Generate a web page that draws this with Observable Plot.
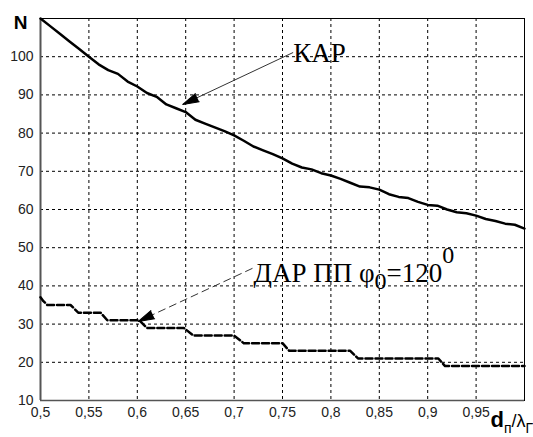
<!DOCTYPE html>
<html><head><meta charset="utf-8">
<script src="https://cdn.jsdelivr.net/npm/d3@7"></script>
<script src="https://cdn.jsdelivr.net/npm/@observablehq/plot@0.6"></script>
<style>body{margin:0;background:#fff}</style>
</head><body><div id="chart"></div>
<script>
// --- data ---
const karX = [0.50,0.51,0.52,0.53,0.54,0.55,0.56,0.57,0.58,0.59,0.60,0.61,0.62,0.63,0.64,0.65,0.66,0.67,0.68,0.69,0.70,0.71,0.72,0.73,0.74,0.75,0.76,0.77,0.78,0.79,0.80,0.81,0.82,0.83,0.84,0.85,0.86,0.87,0.88,0.89,0.90,0.91,0.92,0.93,0.94,0.95,0.96,0.97,0.98,0.99,1.00];
const karN = [110,108,106,104,102,100,98,96.5,95.5,93.5,92.2,90.5,89.5,87.5,86.5,85.5,83.5,82.5,81.5,80.5,79.4,78,76.5,75.5,74.5,73.4,72,71,70.5,69.5,68.9,68,67,66,65.8,65.2,64,63.3,63,62,61.2,61,60,59.3,59,58.4,57.5,57,56.3,56,55];
const darX = [0.5,0.503,0.507,0.531,0.539,0.562,0.569,0.602,0.61,0.648,0.658,0.700,0.710,0.750,0.757,0.820,0.828,0.911,0.918,1.0];
const darN = [37,36,35,35,33,33,31,31,29,29,27,27,25,25,23,23,21,21,19,19];
const xTicks = [0.5,0.55,0.6,0.65,0.7,0.75,0.8,0.85,0.9,0.95];
const xGrid = [0.55,0.6,0.65,0.7,0.75,0.8,0.85,0.9,0.95];
const yTicks = [10,20,30,40,50,60,70,80,90,100];
const yGrid = [20,30,40,50,60,70,80,90,100];
// annotation labels and arrows (data coordinates)
const karLabel = ["КАР"];
const darLabelParts = ["ДАР ПП φ","0","=120","0"];
const labelX = [0.761, 0.72];
const labelY = [98.7, 40.9];
const arrowX1 = [0.761, 0.719];
const arrowY1 = [101.1, 44.6];
const arrowX2 = [0.647, 0.601];
const arrowY2 = [87.5, 30.7];
const arrowDash = ["none", "8,4"];
const yAxisLabel = "N";
const xAxisLabelParts = ["d","п","/λ","Г"];

const kar = karX.map((x,i)=>({x, y: karN[i]}));
const dar = darX.map((x,i)=>({x, y: darN[i]}));
const labels = [
  {x: labelX[0], y: labelY[0], text: karLabel[0]},
  {x: labelX[1], y: labelY[1], text: darLabelParts.join("")}
];
const arrows = arrowX1.map((x1,i)=>({x1, y1: arrowY1[i], x2: arrowX2[i], y2: arrowY2[i], dash: arrowDash[i]}));

function build(heads) {
  return Plot.plot({
    width: 533, height: 437,
    marginLeft: 40, marginRight: 9, marginTop: 18, marginBottom: 37,
    style: {fontFamily: "Liberation Sans, Arial, sans-serif", fontSize: "14px", background: "white", color: "#222"},
    x: {domain: [0.5, 1.0]},
    y: {domain: [10, 110]},
    marks: [
      Plot.gridX(xGrid, {stroke: "black", strokeOpacity: 1, strokeDasharray: "3,3"}),
      Plot.gridY(yGrid, {stroke: "black", strokeOpacity: 1, strokeDasharray: "3,3"}),
      Plot.frame({stroke: "black"}),
      Plot.ruleX([0.5], {stroke: "#555", strokeWidth: 2}),
      Plot.ruleY([10], {stroke: "#555", strokeWidth: 1.5}),
      Plot.axisX(xTicks, {tickSize: 0, tickPadding: 7, tickFormat: d => String(d).replace(".", ","), label: null}),
      Plot.axisY(yTicks, {tickSize: 0, tickPadding: 7, label: null}),
      Plot.line(kar, {x: "x", y: "y", stroke: "black", strokeWidth: 2.5}),
      Plot.line(dar, {x: "x", y: "y", stroke: "black", strokeWidth: 2.5, strokeDasharray: "7,3"}),
      Plot.link(arrows.filter(a=>a.dash==="none"), {x1:"x1", y1:"y1", x2:"x2", y2:"y2", stroke: "#333", strokeWidth: 1}),
      Plot.link(arrows.filter(a=>a.dash!=="none"), {x1:"x1", y1:"y1", x2:"x2", y2:"y2", stroke: "#333", strokeWidth: 1, strokeDasharray: "8,4"}),
      heads ? Plot.vector(heads, {x: "x", y: "y", rotate: "rotate", length: 16, r: 4.5, shape: "spike", anchor: "end", fill: "black", stroke: "black", strokeWidth: 1}) : null,
      Plot.text(labels, {x: "x", y: "y", text: "text", textAnchor: "start", lineAnchor: "bottom", fontFamily: "Liberation Serif, Times New Roman, serif", fontSize: 27, fill: "black"}),
      Plot.text([yAxisLabel], {x: 0.5, frameAnchor: "top", text: d => d, dx: -20, dy: 10, lineAnchor: "bottom", fontSize: 19, fontWeight: "bold", fill: "black"}),
      Plot.text([xAxisLabelParts.join("")], {x: 1.0, frameAnchor: "bottom", text: d => d, dx: -34, dy: 26, textAnchor: "start", lineAnchor: "bottom", fontSize: 20, fill: "black"})
    ]
  });
}

const p0 = build(null);
const sx = p0.scale("x"), sy = p0.scale("y");
const px = v => sx.range[0] + (v - sx.domain[0]) / (sx.domain[1] - sx.domain[0]) * (sx.range[1] - sx.range[0]);
const py = v => sy.range[0] + (v - sy.domain[0]) / (sy.domain[1] - sy.domain[0]) * (sy.range[1] - sy.range[0]);
const heads = arrows.map(a => {
  const dx = px(a.x2) - px(a.x1), dy = py(a.y2) - py(a.y1);
  return {x: a.x2, y: a.y2, rotate: Math.atan2(dx, -dy) * 180 / Math.PI};
});
const plot = build(heads);

// rich text: subscripts / superscripts
const ns = "http://www.w3.org/2000/svg";
function rich(el, parts, shifts, sizes) {
  el.textContent = "";
  let prev = 0;
  parts.forEach((t, i) => {
    const ts = document.createElementNS(ns, "tspan");
    ts.textContent = t;
    const s = shifts[i];
    ts.setAttribute("dy", String(s - prev));
    prev = s;
    if (sizes[i]) ts.setAttribute("font-size", sizes[i]);
    if (i === 0 && parts === xAxisLabelParts) ts.setAttribute("font-weight", "bold");
    el.appendChild(ts);
  });
}
plot.querySelectorAll("text").forEach(el => {
  if (el.textContent === darLabelParts.join("")) {
    rich(el, darLabelParts, [0, 7, 0, -19], [null, 24, null, 24]);
  } else if (el.textContent === xAxisLabelParts.join("")) {
    rich(el, xAxisLabelParts, [0, 6, 0, 6], [22, 14, 18, 14]);
  }
});
document.getElementById("chart").appendChild(plot);
</script></body></html>
